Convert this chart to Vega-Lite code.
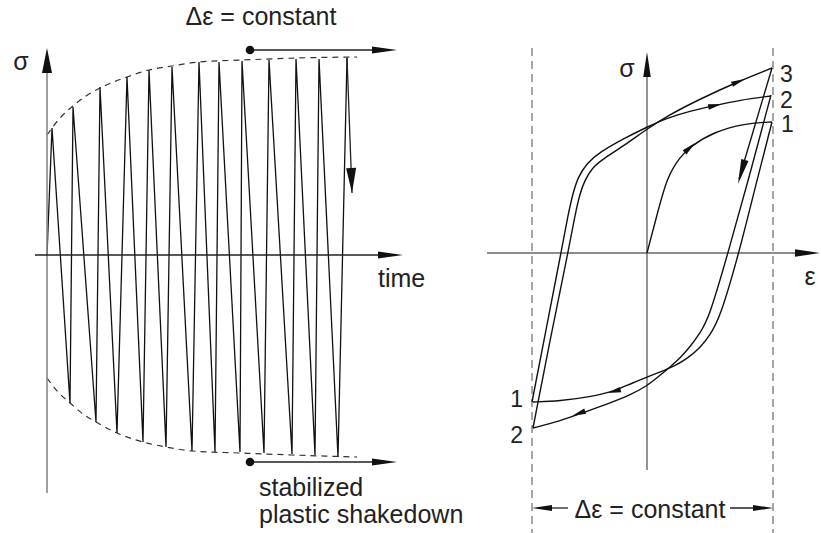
{
  "$schema": "https://vega.github.io/schema/vega-lite/v6.json",
  "background": "white",
  "padding": 0,
  "bounds": "flush",
  "spacing": 0,
  "config": {
    "view": {"stroke": null},
    "text": {"font": "Liberation Sans", "color": "#222"}
  },
  "hconcat": [
    {
      "width": 440,
      "height": 533,
      "encoding": {
        "x": {"field": "t", "type": "quantitative", "scale": {"domain": [-4.7, 39.3], "zero": false, "nice": false}, "axis": null},
        "y": {"field": "s", "type": "quantitative", "scale": {"domain": [-139, 127.5], "zero": false, "nice": false}, "axis": null}
      },
      "layer": [
        {
          "data": {"values": [
            {"edge": "upper", "i": 0, "t": 0, "s": 60},
            {"edge": "upper", "i": 1, "t": 1.3, "s": 68.5},
            {"edge": "upper", "i": 2, "t": 2.6, "s": 74.5},
            {"edge": "upper", "i": 3, "t": 3.9, "s": 79.5},
            {"edge": "upper", "i": 4, "t": 5.3, "s": 83.5},
            {"edge": "upper", "i": 5, "t": 8.0, "s": 89},
            {"edge": "upper", "i": 6, "t": 10.2, "s": 92.5},
            {"edge": "upper", "i": 7, "t": 12.5, "s": 94.5},
            {"edge": "upper", "i": 8, "t": 15.2, "s": 96.5},
            {"edge": "upper", "i": 9, "t": 19.6, "s": 97.5},
            {"edge": "upper", "i": 10, "t": 24.9, "s": 98.5},
            {"edge": "upper", "i": 11, "t": 31.0, "s": 99},
            {"edge": "lower", "i": 0, "t": 0, "s": -61.5},
            {"edge": "lower", "i": 1, "t": 1.1, "s": -68.5},
            {"edge": "lower", "i": 2, "t": 2.3, "s": -74},
            {"edge": "lower", "i": 3, "t": 3.6, "s": -79.5},
            {"edge": "lower", "i": 4, "t": 4.9, "s": -83.5},
            {"edge": "lower", "i": 5, "t": 7.0, "s": -89},
            {"edge": "lower", "i": 6, "t": 9.6, "s": -93.5},
            {"edge": "lower", "i": 7, "t": 11.9, "s": -96},
            {"edge": "lower", "i": 8, "t": 14.5, "s": -98},
            {"edge": "lower", "i": 9, "t": 19.3, "s": -99},
            {"edge": "lower", "i": 10, "t": 24.5, "s": -100},
            {"edge": "lower", "i": 11, "t": 31.0, "s": -101}
          ]},
          "mark": {"type": "line", "interpolate": "monotone", "strokeDash": [6, 5], "color": "#333", "strokeWidth": 1.2},
          "encoding": {"detail": {"field": "edge"}, "order": {"field": "i"}}
        },
        {
          "data": {"values": [
            {"i": 0, "t": 0, "s": 0},
            {"i": 1, "t": 0.5, "s": 63.5},
            {"i": 2, "t": 2.3, "s": -74},
            {"i": 3, "t": 2.6, "s": 74},
            {"i": 4, "t": 4.9, "s": -83.5},
            {"i": 5, "t": 5.3, "s": 84},
            {"i": 6, "t": 7.0, "s": -89},
            {"i": 7, "t": 8.0, "s": 89},
            {"i": 8, "t": 9.6, "s": -93.5},
            {"i": 9, "t": 10.2, "s": 92.5},
            {"i": 10, "t": 11.9, "s": -96},
            {"i": 11, "t": 12.5, "s": 94},
            {"i": 12, "t": 14.5, "s": -98},
            {"i": 13, "t": 15.2, "s": 96.5},
            {"i": 14, "t": 16.8, "s": -98.5},
            {"i": 15, "t": 17.2, "s": 96.5},
            {"i": 16, "t": 19.3, "s": -98.5},
            {"i": 17, "t": 19.5, "s": 97},
            {"i": 18, "t": 21.7, "s": -99},
            {"i": 19, "t": 22.2, "s": 97.5},
            {"i": 20, "t": 24.5, "s": -99.5},
            {"i": 21, "t": 24.9, "s": 98},
            {"i": 22, "t": 26.8, "s": -100},
            {"i": 23, "t": 27.2, "s": 98},
            {"i": 24, "t": 29.1, "s": -101},
            {"i": 25, "t": 30.0, "s": 98.5}
          ]},
          "mark": {"type": "line", "color": "#111", "strokeWidth": 1.3},
          "encoding": {"order": {"field": "i"}}
        },
        {
          "data": {"values": [{"t": 0, "s": -119, "t2": 0, "s2": 100}]},
          "mark": {"type": "rule", "color": "#888", "strokeWidth": 1.6},
          "encoding": {"x2": {"field": "t2"}, "y2": {"field": "s2"}}
        },
        {
          "data": {"values": [
            {"t": -1.2, "s": 0, "t2": 34.5, "s2": 0},
            {"t": 20.3, "s": 102.5, "t2": 34, "s2": 102.5},
            {"t": 20.3, "s": -103.5, "t2": 34, "s2": -103.5},
            {"t": 30.0, "s": 98.5, "t2": 30.5, "s2": 31}
          ]},
          "mark": {"type": "rule", "color": "#222", "strokeWidth": 1.3},
          "encoding": {"x2": {"field": "t2"}, "y2": {"field": "s2"}}
        },
        {
          "data": {"values": [{"t": 20.3, "s": 102.5}, {"t": 20.3, "s": -103.5}]},
          "mark": {"type": "point", "shape": "circle", "filled": true, "color": "#111", "size": 75, "opacity": 1}
        },
        {
          "data": {"values": [
            {"t": 0, "s": 103.5, "heading": 0},
            {"t": 30.5, "s": 31, "heading": 178}
          ]},
          "mark": {"type": "point", "shape": "M0,0L-0.2,1L0.2,1Z", "filled": true, "color": "#111", "size": 2500, "opacity": 1},
          "encoding": {"angle": {"field": "heading", "type": "quantitative", "scale": null}}
        },
        {
          "data": {"values": [
            {"t": 35.6, "s": 0, "heading": 90},
            {"t": 35.0, "s": 102.5, "heading": 90},
            {"t": 35.0, "s": -103.5, "heading": 90}
          ]},
          "mark": {"type": "point", "shape": "M0,0L-0.14,1L0.14,1Z", "filled": true, "color": "#111", "size": 2500, "opacity": 1},
          "encoding": {"angle": {"field": "heading", "type": "quantitative", "scale": null}}
        },
        {
          "data": {"values": [{"t": 21.4, "s": 115, "label": "Δε = constant"}, {"t": -2.6, "s": 92.5, "label": "σ"}]},
          "mark": {"type": "text", "align": "center", "baseline": "alphabetic", "fontSize": 25},
          "encoding": {"text": {"field": "label"}}
        },
        {
          "data": {"values": [
            {"t": 33.1, "s": -16, "label": "time"},
            {"t": 21.2, "s": -120.5, "label": "stabilized"},
            {"t": 21.2, "s": -134, "label": "plastic shakedown"}
          ]},
          "mark": {"type": "text", "align": "left", "baseline": "alphabetic", "fontSize": 25},
          "encoding": {"text": {"field": "label"}}
        }
      ]
    },
    {
      "width": 381,
      "height": 533,
      "encoding": {
        "x": {"field": "e", "type": "quantitative", "scale": {"domain": [-2.07, 1.74], "zero": false, "nice": false}, "axis": null},
        "y": {"field": "s", "type": "quantitative", "scale": {"domain": [-140, 126.5], "zero": false, "nice": false}, "axis": null}
      },
      "layer": [
        {
          "data": {"values": [
            {"e": -1.15, "s": 102.5, "e2": -1.15, "s2": -140},
            {"e": 1.26, "s": 102.5, "e2": 1.26, "s2": -140}
          ]},
          "mark": {"type": "rule", "color": "#777", "strokeWidth": 1.3, "strokeDash": [8, 5]},
          "encoding": {"x2": {"field": "e2"}, "y2": {"field": "s2"}}
        },
        {
          "data": {"values": [
            {"e": 0, "s": -108.5, "e2": 0, "s2": 95},
            {"e": -1.6, "s": 0, "e2": 1.62, "s2": 0}
          ]},
          "mark": {"type": "rule", "color": "#666", "strokeWidth": 1.4},
          "encoding": {"x2": {"field": "e2"}, "y2": {"field": "s2"}}
        },
        {
          "data": {"values": [
            {"e": -0.79, "s": -127.5, "e2": -1.05, "s2": -127.5},
            {"e": 0.83, "s": -127.5, "e2": 1.16, "s2": -127.5}
          ]},
          "mark": {"type": "rule", "color": "#222", "strokeWidth": 1.3},
          "encoding": {"x2": {"field": "e2"}, "y2": {"field": "s2"}}
        },
        {
          "data": {"values": [
            {"path": "A", "i": 0, "e": 0, "s": 0},
            {"path": "A", "i": 1, "e": 0.10, "s": 19},
            {"path": "A", "i": 2, "e": 0.20, "s": 38},
            {"path": "A", "i": 3, "e": 0.33, "s": 48},
            {"path": "A", "i": 4, "e": 0.43, "s": 53},
            {"path": "A", "i": 5, "e": 0.66, "s": 60.5},
            {"path": "A", "i": 6, "e": 1.00, "s": 65},
            {"path": "A", "i": 7, "e": 1.25, "s": 65.5},
            {"path": "B", "i": 0, "e": 1.25, "s": 65.5},
            {"path": "B", "i": 1, "e": 1.08, "s": 32.5},
            {"path": "B", "i": 2, "e": 0.92, "s": 0},
            {"path": "B", "i": 3, "e": 0.73, "s": -32.5},
            {"path": "B", "i": 4, "e": 0.63, "s": -41},
            {"path": "B", "i": 5, "e": 0.53, "s": -47.5},
            {"path": "B", "i": 6, "e": 0.41, "s": -52.5},
            {"path": "B", "i": 7, "e": 0.28, "s": -56.5},
            {"path": "B", "i": 8, "e": 0.13, "s": -59.5},
            {"path": "B", "i": 9, "e": 0, "s": -62},
            {"path": "B", "i": 10, "e": -0.17, "s": -65.5},
            {"path": "B", "i": 11, "e": -0.32, "s": -69},
            {"path": "B", "i": 12, "e": -0.57, "s": -72},
            {"path": "B", "i": 13, "e": -0.87, "s": -74},
            {"path": "B", "i": 14, "e": -1.14, "s": -74.5},
            {"path": "C", "i": 0, "e": -1.15, "s": -74.5},
            {"path": "C", "i": 1, "e": -1.01, "s": -38.5},
            {"path": "C", "i": 2, "e": -0.86, "s": 0},
            {"path": "C", "i": 3, "e": -0.79, "s": 19},
            {"path": "C", "i": 4, "e": -0.74, "s": 30},
            {"path": "C", "i": 5, "e": -0.69, "s": 38},
            {"path": "C", "i": 6, "e": -0.60, "s": 45},
            {"path": "C", "i": 7, "e": -0.47, "s": 50.5},
            {"path": "C", "i": 8, "e": -0.24, "s": 57},
            {"path": "C", "i": 9, "e": 0, "s": 63},
            {"path": "C", "i": 10, "e": 0.20, "s": 67.5},
            {"path": "C", "i": 11, "e": 0.43, "s": 71},
            {"path": "C", "i": 12, "e": 0.66, "s": 73.5},
            {"path": "C", "i": 13, "e": 0.93, "s": 76.5},
            {"path": "C", "i": 14, "e": 1.24, "s": 78.5},
            {"path": "D", "i": 0, "e": 1.24, "s": 79},
            {"path": "D", "i": 1, "e": 1.03, "s": 39.5},
            {"path": "D", "i": 2, "e": 0.81, "s": 0},
            {"path": "D", "i": 3, "e": 0.62, "s": -32.5},
            {"path": "D", "i": 4, "e": 0.53, "s": -40},
            {"path": "D", "i": 5, "e": 0.43, "s": -47},
            {"path": "D", "i": 6, "e": 0.33, "s": -52.5},
            {"path": "D", "i": 7, "e": 0.23, "s": -57},
            {"path": "D", "i": 8, "e": 0.11, "s": -62},
            {"path": "D", "i": 9, "e": 0, "s": -66.5},
            {"path": "D", "i": 10, "e": -0.17, "s": -71},
            {"path": "D", "i": 11, "e": -0.37, "s": -75},
            {"path": "D", "i": 12, "e": -0.65, "s": -80},
            {"path": "D", "i": 13, "e": -0.87, "s": -84},
            {"path": "D", "i": 14, "e": -1.14, "s": -87.5},
            {"path": "E", "i": 0, "e": -1.14, "s": -87.5},
            {"path": "E", "i": 1, "e": -0.97, "s": -43.5},
            {"path": "E", "i": 2, "e": -0.79, "s": 0},
            {"path": "E", "i": 3, "e": -0.72, "s": 19},
            {"path": "E", "i": 4, "e": -0.67, "s": 30},
            {"path": "E", "i": 5, "e": -0.62, "s": 36.5},
            {"path": "E", "i": 6, "e": -0.55, "s": 42.5},
            {"path": "E", "i": 7, "e": -0.44, "s": 47},
            {"path": "E", "i": 8, "e": -0.22, "s": 54},
            {"path": "E", "i": 9, "e": 0, "s": 62},
            {"path": "E", "i": 10, "e": 0.20, "s": 68.5},
            {"path": "E", "i": 11, "e": 0.53, "s": 77},
            {"path": "E", "i": 12, "e": 0.90, "s": 85.5},
            {"path": "E", "i": 13, "e": 1.25, "s": 92.5},
            {"path": "F", "i": 0, "e": 1.25, "s": 92.5},
            {"path": "F", "i": 1, "e": 0.92, "s": 37}
          ]},
          "mark": {"type": "line", "interpolate": "basis", "color": "#111", "strokeWidth": 1.4},
          "encoding": {"detail": {"field": "path"}, "order": {"field": "i"}}
        },
        {
          "data": {"values": [
            {"e": 0.48, "s": 55, "heading": 48},
            {"e": 0.75, "s": 74.5, "heading": 78},
            {"e": 0.98, "s": 87, "heading": 68},
            {"e": -0.40, "s": -70, "heading": 256},
            {"e": -0.75, "s": -81.5, "heading": 250}
          ]},
          "mark": {"type": "point", "shape": "M0,0L-0.2,1L0.2,1Z", "filled": true, "color": "#111", "size": 784, "opacity": 1},
          "encoding": {"angle": {"field": "heading", "type": "quantitative", "scale": null}}
        },
        {
          "data": {"values": [
            {"e": 0, "s": 100.5, "heading": 0},
            {"e": 1.73, "s": 0, "heading": 90},
            {"e": 0.91, "s": 34.5, "heading": 196}
          ]},
          "mark": {"type": "point", "shape": "M0,0L-0.15,1L0.15,1Z", "filled": true, "color": "#111", "size": 2500, "opacity": 1},
          "encoding": {"angle": {"field": "heading", "type": "quantitative", "scale": null}}
        },
        {
          "data": {"values": [
            {"e": -1.15, "s": -127.5, "heading": 270},
            {"e": 1.26, "s": -127.5, "heading": 90}
          ]},
          "mark": {"type": "point", "shape": "M0,0L-0.15,1L0.15,1Z", "filled": true, "color": "#111", "size": 1600, "opacity": 1},
          "encoding": {"angle": {"field": "heading", "type": "quantitative", "scale": null}}
        },
        {
          "data": {"values": [
            {"e": -0.2, "s": 88, "label": "σ"},
            {"e": 1.63, "s": -16, "label": "ε"},
            {"e": 0.03, "s": -132.5, "label": "Δε = constant"}
          ]},
          "mark": {"type": "text", "align": "center", "baseline": "alphabetic", "fontSize": 25},
          "encoding": {"text": {"field": "label"}}
        },
        {
          "data": {"values": [
            {"e": 1.33, "s": 85.5, "label": "3"},
            {"e": 1.33, "s": 72.5, "label": "2"},
            {"e": 1.34, "s": 60.5, "label": "1"}
          ]},
          "mark": {"type": "text", "align": "left", "baseline": "alphabetic", "fontSize": 23},
          "encoding": {"text": {"field": "label"}}
        },
        {
          "data": {"values": [
            {"e": -1.24, "s": -77, "label": "1"},
            {"e": -1.24, "s": -95, "label": "2"}
          ]},
          "mark": {"type": "text", "align": "right", "baseline": "alphabetic", "fontSize": 23},
          "encoding": {"text": {"field": "label"}}
        }
      ]
    }
  ]
}
